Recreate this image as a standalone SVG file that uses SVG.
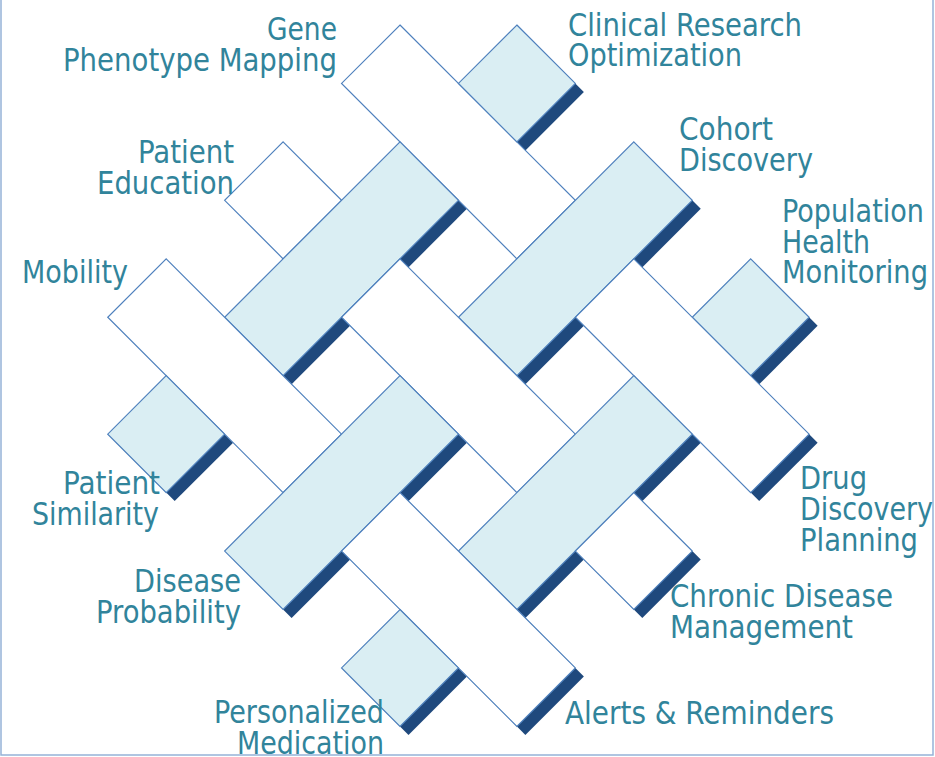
<svg xmlns="http://www.w3.org/2000/svg" width="935" height="757" viewBox="0 0 935 757">
<style>
.blue{fill:#DAEEF3;stroke:#4F81BD;stroke-width:1.2;stroke-linejoin:miter}
.white{fill:#FFFFFF;stroke:#4F81BD;stroke-width:1.2;stroke-linejoin:miter}
.sh{fill:#1F497D}
text{font-family:"DejaVu Sans Condensed","DejaVu Sans",sans-serif;font-stretch:condensed;font-size:31.5px;fill:#31849B}
.e{text-anchor:end}
.frame{fill:none;stroke:#95B3D7;stroke-width:1.5}
</style>
<rect width="935" height="757" fill="#FFFFFF"/>
<path class="frame" d="M1,0 V755 H933 V0"/>
<g id="shadows" transform="translate(8.5,8.5)">
<polygon class="sh" points="516.9,25 575.35,83.45 516.9,141.9 458.45,83.45"/>
<polygon class="sh" points="400,141.9 458.45,200.35 283.1,375.7 224.65,317.25"/>
<polygon class="sh" points="166.2,375.7 224.65,434.15 166.2,492.6 107.75,434.15"/>
<polygon class="sh" points="633.8,141.9 692.25,200.35 516.9,375.7 458.45,317.25"/>
<polygon class="sh" points="400,375.7 458.45,434.15 283.1,609.5 224.65,551.05"/>
<polygon class="sh" points="750.7,258.8 809.15,317.25 750.7,375.7 692.25,317.25"/>
<polygon class="sh" points="633.8,375.7 692.25,434.15 516.9,609.5 458.45,551.05"/>
<polygon class="sh" points="400,609.5 458.45,667.95 400,726.4 341.55,667.95"/>
<polygon class="sh" points="633.8,258.8 809.15,434.15 750.7,492.6 575.35,317.25"/>
<polygon class="sh" points="633.8,492.6 692.25,551.05 633.8,609.5 575.35,551.05"/>
<polygon class="sh" points="400,492.6 575.35,667.95 516.9,726.4 341.55,551.05"/>
</g>
<g id="gene-phenotype-mapping">
<polygon class="white" points="400,25 575.35,200.35 516.9,258.8 341.55,83.45"/>
<text class="e" x="337" y="40" textLength="70" lengthAdjust="spacingAndGlyphs">Gene</text>
<text class="e" x="337" y="71" textLength="274" lengthAdjust="spacingAndGlyphs">Phenotype Mapping</text>
</g>
<g id="clinical-research-optimization">
<polygon class="blue" points="516.9,25 575.35,83.45 516.9,141.9 458.45,83.45"/>
<text x="568" y="36" textLength="234" lengthAdjust="spacingAndGlyphs">Clinical Research</text>
<text x="568" y="66" textLength="174" lengthAdjust="spacingAndGlyphs">Optimization</text>
</g>
<g id="patient-education">
<polygon class="white" points="283.1,141.9 341.55,200.35 283.1,258.8 224.65,200.35"/>
<text class="e" x="234" y="163" textLength="96" lengthAdjust="spacingAndGlyphs">Patient</text>
<text class="e" x="234" y="194" textLength="137" lengthAdjust="spacingAndGlyphs">Education</text>
</g>
<g id="band-upper-left">
<polygon class="blue" points="400,141.9 458.45,200.35 283.1,375.7 224.65,317.25"/>
</g>
<g id="cohort-discovery">
<polygon class="blue" points="633.8,141.9 692.25,200.35 516.9,375.7 458.45,317.25"/>
<text x="679" y="140" textLength="94" lengthAdjust="spacingAndGlyphs">Cohort</text>
<text x="679" y="171" textLength="134" lengthAdjust="spacingAndGlyphs">Discovery</text>
</g>
<g id="population-health-monitoring">
<polygon class="blue" points="750.7,258.8 809.15,317.25 750.7,375.7 692.25,317.25"/>
<text x="782" y="222" textLength="142" lengthAdjust="spacingAndGlyphs">Population</text>
<text x="782" y="253" textLength="88" lengthAdjust="spacingAndGlyphs">Health</text>
<text x="782" y="283" textLength="146" lengthAdjust="spacingAndGlyphs">Monitoring</text>
</g>
<g id="mobility">
<polygon class="white" points="166.2,258.8 341.55,434.15 283.1,492.6 107.75,317.25"/>
<text x="22" y="283" textLength="106" lengthAdjust="spacingAndGlyphs">Mobility</text>
</g>
<g id="band-center">
<polygon class="white" points="400,258.8 575.35,434.15 516.9,492.6 341.55,317.25"/>
</g>
<g id="patient-similarity">
<polygon class="blue" points="166.2,375.7 224.65,434.15 166.2,492.6 107.75,434.15"/>
<text class="e" x="160" y="494" textLength="97" lengthAdjust="spacingAndGlyphs">Patient</text>
<text class="e" x="159" y="525" textLength="127" lengthAdjust="spacingAndGlyphs">Similarity</text>
</g>
<g id="drug-discovery-planning">
<polygon class="white" points="633.8,258.8 809.15,434.15 750.7,492.6 575.35,317.25"/>
<text x="800" y="489" textLength="67" lengthAdjust="spacingAndGlyphs">Drug</text>
<text x="800" y="520" textLength="133" lengthAdjust="spacingAndGlyphs">Discovery</text>
<text x="800" y="551" textLength="118" lengthAdjust="spacingAndGlyphs">Planning</text>
</g>
<g id="disease-probability">
<polygon class="blue" points="400,375.7 458.45,434.15 283.1,609.5 224.65,551.05"/>
<text class="e" x="241" y="592" textLength="107" lengthAdjust="spacingAndGlyphs">Disease</text>
<text class="e" x="241" y="623" textLength="145" lengthAdjust="spacingAndGlyphs">Probability</text>
</g>
<g id="band-lower-right">
<polygon class="blue" points="633.8,375.7 692.25,434.15 516.9,609.5 458.45,551.05"/>
</g>
<g id="chronic-disease-management">
<polygon class="white" points="633.8,492.6 692.25,551.05 633.8,609.5 575.35,551.05"/>
<text x="670" y="607" textLength="223" lengthAdjust="spacingAndGlyphs">Chronic Disease</text>
<text x="670" y="638" textLength="183" lengthAdjust="spacingAndGlyphs">Management</text>
</g>
<g id="alerts-reminders">
<polygon class="white" points="400,492.6 575.35,667.95 516.9,726.4 341.55,551.05"/>
<text x="565" y="724" textLength="269" lengthAdjust="spacingAndGlyphs">Alerts &amp; Reminders</text>
</g>
<g id="personalized-medication">
<polygon class="blue" points="400,609.5 458.45,667.95 400,726.4 341.55,667.95"/>
<text class="e" x="384" y="723" textLength="170" lengthAdjust="spacingAndGlyphs">Personalized</text>
<text class="e" x="384" y="754" textLength="147" lengthAdjust="spacingAndGlyphs">Medication</text>
</g>
</svg>
